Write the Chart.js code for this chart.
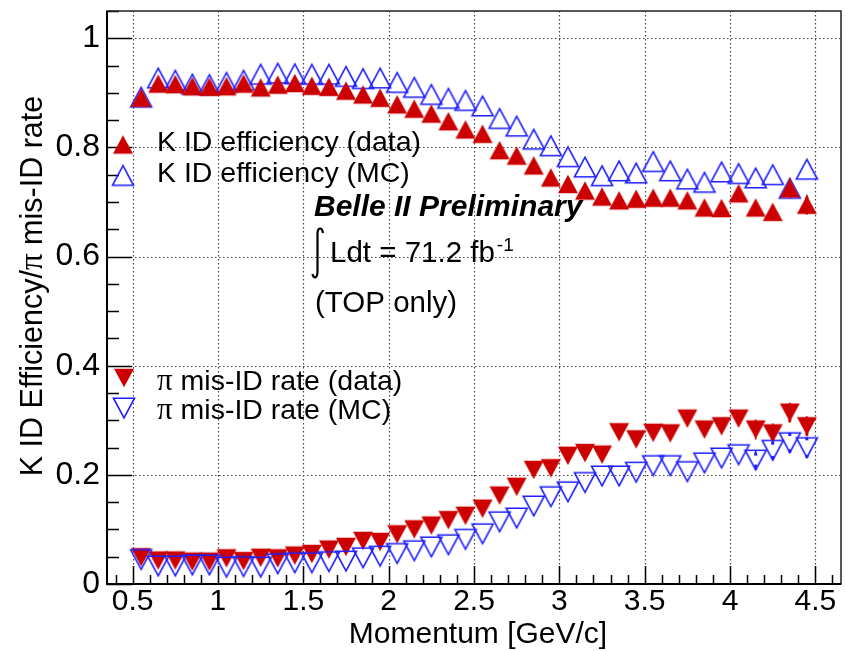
<!DOCTYPE html>
<html>
<head>
<meta charset="utf-8">
<script src="https://cdn.jsdelivr.net/npm/chart.js@4.4.1/dist/chart.umd.min.js"></script>
<style>
  html, body { margin: 0; padding: 0; background: #fff; overflow: hidden; }
  canvas { display: block; }
</style>
</head>
<body>
<canvas id="eff" width="852" height="651"></canvas>
<script>
// momentum bin centres [GeV/c]
const momentum = [0.55, 0.65, 0.75, 0.85, 0.95, 1.05, 1.15, 1.25, 1.35, 1.45,
                  1.55, 1.65, 1.75, 1.85, 1.95, 2.05, 2.15, 2.25, 2.35, 2.45,
                  2.55, 2.65, 2.75, 2.85, 2.95, 3.05, 3.15, 3.25, 3.35, 3.45,
                  3.55, 3.65, 3.75, 3.85, 3.95, 4.05, 4.15, 4.25, 4.35, 4.45];

// K ID efficiency
const kEffData = [0.891, 0.917, 0.916, 0.912, 0.911, 0.912, 0.917, 0.910, 0.915, 0.918,
                  0.913, 0.911, 0.904, 0.897, 0.891, 0.879, 0.871, 0.862, 0.848, 0.833,
                  0.825, 0.795, 0.785, 0.767, 0.745, 0.733, 0.721, 0.710, 0.703, 0.706,
                  0.708, 0.708, 0.703, 0.690, 0.689, 0.716, 0.690, 0.682, 0.725, 0.695];
const kEffMC   = [0.892, 0.927, 0.923, 0.916, 0.915, 0.919, 0.923, 0.934, 0.936, 0.935,
                  0.934, 0.934, 0.930, 0.926, 0.927, 0.919, 0.910, 0.897, 0.890, 0.886,
                  0.876, 0.853, 0.839, 0.815, 0.803, 0.783, 0.764, 0.748, 0.757, 0.753,
                  0.774, 0.757, 0.742, 0.736, 0.755, 0.752, 0.744, 0.750, 0.725, 0.760];

// pion mis-ID rate
const piMisData = [0.049, 0.043, 0.043, 0.041, 0.041, 0.047, 0.042, 0.048, 0.047, 0.052,
                   0.055, 0.063, 0.068, 0.079, 0.077, 0.091, 0.100, 0.107, 0.117, 0.125,
                   0.138, 0.162, 0.178, 0.209, 0.212, 0.235, 0.240, 0.237, 0.278, 0.265,
                   0.277, 0.276, 0.303, 0.283, 0.289, 0.303, 0.283, 0.276, 0.314, 0.289];
const piMisMC   = [0.045, 0.033, 0.033, 0.035, 0.035, 0.031, 0.032, 0.031, 0.037, 0.039,
                   0.039, 0.041, 0.042, 0.048, 0.051, 0.056, 0.061, 0.068, 0.072, 0.082,
                   0.092, 0.114, 0.121, 0.143, 0.160, 0.169, 0.186, 0.198, 0.198, 0.205,
                   0.217, 0.217, 0.206, 0.222, 0.231, 0.237, 0.227, 0.245, 0.259, 0.250];

// statistical errors, only the last bins stick out of the markers
const kEffDataErr  = [0, 0, 0, 0, 0, 0, 0, 0, 0, 0, 0, 0, 0, 0, 0, 0, 0, 0, 0, 0,
                      0, 0, 0, 0, 0, 0, 0, 0, 0, 0, 0, 0, 0, 0, 0, 0, 0, 0, 0.008, 0.012];
const kEffMCErr    = [0, 0, 0, 0, 0, 0, 0, 0, 0, 0, 0, 0, 0, 0, 0, 0, 0, 0, 0, 0,
                      0, 0, 0, 0, 0, 0, 0, 0, 0, 0, 0, 0, 0, 0, 0, 0, 0, 0, 0, 0];
const piMisDataErr = [0, 0, 0, 0, 0, 0, 0, 0, 0, 0, 0, 0, 0, 0, 0, 0, 0, 0, 0, 0,
                      0, 0, 0, 0, 0, 0, 0, 0, 0, 0, 0, 0, 0, 0, 0, 0, 0.008, 0.009, 0.014, 0.014];
const piMisMCErr   = [0, 0, 0, 0, 0, 0, 0, 0, 0, 0, 0, 0, 0, 0, 0, 0, 0, 0, 0, 0,
                      0, 0, 0, 0, 0, 0, 0, 0, 0, 0, 0, 0, 0, 0, 0, 0, 0.011, 0.013, 0.015, 0.016];

const xTicks = [0.5, 1, 1.5, 2, 2.5, 3, 3.5, 4, 4.5];
const yTicks = [0, 0.2, 0.4, 0.6, 0.8, 1];

const SANS = '"Liberation Sans", Arial, Helvetica, sans-serif';
const SERIF = '"Liberation Serif", "Times New Roman", serif';
const RED = 'rgb(204,0,0)';
const BLUE = 'rgb(30,30,255)';

// ROOT-like triangle markers, centred on their bounding box
function triangle(up, filled, color) {
  const c = document.createElement('canvas');
  c.width = 26; c.height = 26;
  const g = c.getContext('2d');
  const hw = filled ? 10 : 10.5, hh = filled ? 9.3 : 9.8;
  g.beginPath();
  if (up) {
    g.moveTo(13, 13 - hh); g.lineTo(13 + hw, 13 + hh); g.lineTo(13 - hw, 13 + hh);
  } else {
    g.moveTo(13, 13 + hh); g.lineTo(13 + hw, 13 - hh); g.lineTo(13 - hw, 13 - hh);
  }
  g.closePath();
  if (filled) { g.fillStyle = color; g.fill(); }
  else { g.strokeStyle = color; g.lineWidth = 1.6; g.lineJoin = 'miter'; g.stroke(); }
  return c;
}

const mKData  = triangle(true, true, RED);
const mKMC    = triangle(true, false, BLUE);
const mPiData = triangle(false, true, RED);
const mPiMC   = triangle(false, false, BLUE);

function series(label, ys, errs, marker, color, order) {
  return {
    label: label,
    data: momentum.map((x, i) => ({ x: x, y: ys[i] })),
    errors: errs,
    errColor: color,
    pointStyle: marker,
    pointRadius: 10,
    pointHoverRadius: 10,
    showLine: false,
    order: order
  };
}

// dotted grid, frame and inward tick marks
const framePlugin = {
  id: 'frame',
  beforeDatasetsDraw(chart) {
    const { ctx, chartArea: a, scales: { x, y } } = chart;
    ctx.save();
    ctx.strokeStyle = '#444';
    ctx.lineWidth = 1.2;
    ctx.setLineDash([1.5, 2.5]);
    ctx.beginPath();
    xTicks.forEach(v => {
      const px = Math.round(x.getPixelForValue(v)) + 0.5;
      ctx.moveTo(px, a.top); ctx.lineTo(px, a.bottom);
    });
    yTicks.slice(1).forEach(v => {
      const py = Math.round(y.getPixelForValue(v)) + 0.5;
      ctx.moveTo(a.left, py); ctx.lineTo(a.right, py);
    });
    ctx.stroke();
    ctx.setLineDash([]);

    ctx.strokeStyle = '#000';
    ctx.lineWidth = 1.5;
    ctx.beginPath();
    for (let k = 4; k <= 46; k++) {
      const v = k / 10;
      const px = Math.round(x.getPixelForValue(v)) + 0.5;
      const len = k % 5 === 0 ? 18 : 9;
      ctx.moveTo(px, a.bottom); ctx.lineTo(px, a.bottom - len);
    }
    for (let k = 0; k <= 21; k++) {
      const v = k / 20;
      const py = Math.round(y.getPixelForValue(v)) + 0.5;
      const len = k % 4 === 0 ? 25 : 12;
      ctx.moveTo(a.left, py); ctx.lineTo(a.left + len, py);
    }
    ctx.stroke();

    ctx.lineWidth = 1.5;
    ctx.strokeStyle = '#222';
    ctx.strokeRect(a.left, a.top, a.right - a.left, a.bottom - a.top);
    ctx.lineWidth = 2;
    ctx.strokeStyle = '#000';
    ctx.beginPath();
    ctx.moveTo(a.left, a.top); ctx.lineTo(a.left, a.bottom); ctx.lineTo(a.right, a.bottom);
    ctx.stroke();
    ctx.restore();
  }
};

// vertical error bars outside the marker
const errorPlugin = {
  id: 'errbars',
  afterDatasetsDraw(chart) {
    const { ctx, scales: { y } } = chart;
    ctx.save();
    chart.data.datasets.forEach((ds, di) => {
      const meta = chart.getDatasetMeta(di);
      ctx.strokeStyle = ds.errColor;
      ctx.fillStyle = ds.errColor;
      ctx.lineWidth = 1.5;
      meta.data.forEach((pt, i) => {
        const e = ds.errors[i];
        if (!e) return;
        const hi = y.getPixelForValue(ds.data[i].y + e);
        const lo = y.getPixelForValue(ds.data[i].y - e);
        ctx.beginPath();
        ctx.moveTo(pt.x, pt.y - 10); ctx.lineTo(pt.x, hi);
        ctx.moveTo(pt.x, pt.y + 10); ctx.lineTo(pt.x, lo);
        ctx.stroke();
        ctx.fillRect(pt.x - 1.5, hi - 1.5, 3, 3);
        ctx.fillRect(pt.x - 1.5, lo - 1.5, 3, 3);
      });
    });
    ctx.restore();
  }
};

function drawParts(ctx, parts, x, y) {
  parts.forEach(p => {
    ctx.font = p[1];
    ctx.fillText(p[0], x, y);
    x += ctx.measureText(p[0]).width;
  });
  return x;
}

function partsWidth(ctx, parts) {
  let w = 0;
  parts.forEach(p => { ctx.font = p[1]; w += ctx.measureText(p[0]).width; });
  return w;
}

// legend, labels and axis titles
const textPlugin = {
  id: 'texts',
  afterDraw(chart) {
    const ctx = chart.ctx;
    ctx.save();
    ctx.fillStyle = '#000';
    ctx.textBaseline = 'alphabetic';
    ctx.textAlign = 'left';
    const f28 = '28.5px ' + SANS;

    const legend = [
      [mKData, 123, 144.5, [['K ID efficiency (data)', f28]], 151],
      [mKMC, 123, 175.5, [['K ID efficiency (MC)', f28]], 181.5],
      [mPiData, 124, 378, [['\u03c0', '31px ' + SERIF], [' mis-ID rate (data)', f28]], 390],
      [mPiMC, 124, 408, [['\u03c0', '31px ' + SERIF], [' mis-ID rate (MC)', f28]], 419]
    ];
    legend.forEach(r => {
      ctx.drawImage(r[0], r[1] - 13, r[2] - 13);
      drawParts(ctx, r[3], 157, r[4]);
    });

    ctx.font = 'italic bold 30px ' + SANS;
    ctx.fillText('Belle II Preliminary', 314, 216);

    // integral sign
    ctx.strokeStyle = '#000';
    ctx.lineWidth = 2.2;
    ctx.beginPath();
    ctx.moveTo(323, 233);
    ctx.bezierCurveTo(322, 227, 317.5, 227, 317.5, 234);
    ctx.lineTo(317.5, 271);
    ctx.bezierCurveTo(317.5, 279, 313.5, 279, 312.5, 274);
    ctx.stroke();

    ctx.font = '29.5px ' + SANS;
    ctx.fillText('Ldt = 71.2 fb', 330, 261.5);
    const endX = 330 + ctx.measureText('Ldt = 71.2 fb').width;
    ctx.font = '19px ' + SANS;
    ctx.fillText('-1', endX + 2, 251);
    ctx.font = '29.5px ' + SANS;
    ctx.fillText('(TOP only)', 315, 311.5);

    // x axis title
    ctx.textAlign = 'center';
    ctx.font = '30px ' + SANS;
    ctx.fillText('Momentum [GeV/c]', 478, 643);

    // y axis title, rotated
    ctx.textAlign = 'left';
    const f30 = '30.5px ' + SANS;
    const yParts = [['K ID Efficiency/', f30], ['\u03c0', '33px ' + SERIF], [' mis-ID rate', f30]];
    const w = partsWidth(ctx, yParts);
    ctx.translate(42, 286 + w / 2);
    ctx.rotate(-Math.PI / 2);
    drawParts(ctx, yParts, 0, 0);
    ctx.restore();
  }
};

function fixedBox(size, horizontal) {
  return function (s) {
    if (horizontal) s.height = size; else s.width = size;
    s.paddingTop = 0; s.paddingBottom = 0; s.paddingLeft = 0; s.paddingRight = 0;
  };
}

new Chart(document.getElementById('eff'), {
  type: 'scatter',
  data: {
    datasets: [
      series('K ID efficiency (data)', kEffData, kEffDataErr, mKData, RED, 0),
      series('K ID efficiency (MC)', kEffMC, kEffMCErr, mKMC, BLUE, 1),
      series('\u03c0 mis-ID rate (data)', piMisData, piMisDataErr, mPiData, RED, 1),
      series('\u03c0 mis-ID rate (MC)', piMisMC, piMisMCErr, mPiMC, BLUE, 0)
    ]
  },
  options: {
    responsive: false,
    animation: false,
    events: [],
    layout: { padding: { left: 0, top: 6, right: 3, bottom: 0 } },
    plugins: { legend: { display: false }, tooltip: { enabled: false } },
    scales: {
      x: {
        type: 'linear',
        min: 0.35,
        max: 4.65,
        afterBuildTicks: s => { s.ticks = xTicks.map(v => ({ value: v })); },
        afterFit: fixedBox(67, true),
        grid: { display: false, drawTicks: false },
        border: { display: false },
        ticks: {
          autoSkip: false,
          maxRotation: 0,
          padding: 0,
          color: '#000',
          font: { family: SANS, size: 30 },
          callback: v => String(v)
        }
      },
      y: {
        type: 'linear',
        min: 0,
        max: 1.05,
        afterBuildTicks: s => { s.ticks = yTicks.map(v => ({ value: v })); },
        afterFit: fixedBox(107, false),
        grid: { display: false, drawTicks: false },
        border: { display: false },
        ticks: {
          padding: 7,
          color: '#000',
          font: { family: SANS, size: 32 },
          callback: v => String(v)
        }
      }
    }
  },
  plugins: [framePlugin, errorPlugin, textPlugin]
});
</script>
</body>
</html>
